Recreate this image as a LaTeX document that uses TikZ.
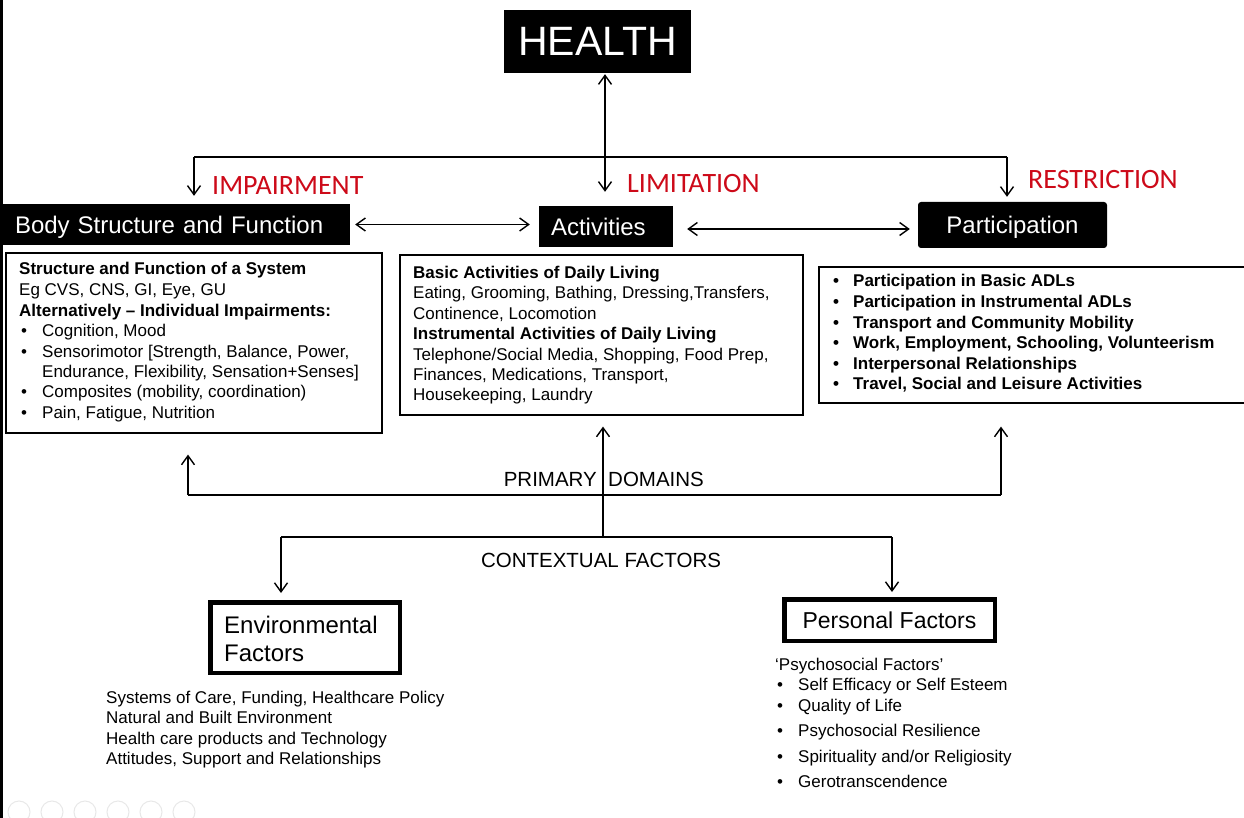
\documentclass[tikz,border=0pt]{standalone}
\usepackage{fontspec}
\setmainfont{Liberation Sans}
\newfontfamily\calibri{Carlito}
\usetikzlibrary{arrows.meta}
\definecolor{labred}{RGB}{205,10,25}
\newcommand{\bulx}[2]{\makebox[#1pt][l]{\hspace{#2pt}\textbullet}}
\begin{document}
\begin{tikzpicture}[x=1pt,y=-1pt,
  arr/.style={line width=1.4pt,-{Straight Barb[length=9pt,width=13pt]}},
  darr/.style={line width=1.4pt,{Straight Barb[length=9pt,width=13pt]}-{Straight Barb[length=9pt,width=13pt]}},
  plainline/.style={line width=1.4pt},
  blackbox/.style={fill=black,text=white,inner sep=0pt,text depth=0pt,font=\fontsize{24}{28}\selectfont},
  thinbox/.style={draw,line width=1.6pt,inner sep=0pt,anchor=north west},
  thickbox/.style={draw,line width=4.5pt,inner sep=0pt},
  redlab/.style={text=labred,font=\calibri\fontsize{28}{32}\selectfont,inner sep=0pt,anchor=base west},
  bodytext/.style={font=\fontsize{17}{20.5}\selectfont,inner sep=0pt,anchor=base west},
  captext/.style={font=\fontsize{20.5}{23}\selectfont,inner sep=0pt},
]
\useasboundingbox (0,0) rectangle (1244,818);
\fill[white] (0,0) rectangle (1244,818);
\fill[black] (0,0) rectangle (3,818);

% top row
\node[blackbox,minimum width=187pt,minimum height=63pt,font=\fontsize{41}{45}\selectfont] (health) at (597.5,41.5) {HEALTH};
\node[blackbox,minimum width=347pt,minimum height=41pt,text width=323pt,align=left] (body) at (176.5,224.5) {Body Structure and Function};
\node[blackbox,minimum width=134pt,minimum height=41pt,text width=110pt,align=left] (act) at (606,226.5) {Activities};
\node[blackbox,rounded corners=3pt,minimum width=189pt,minimum height=46pt] (part) at (1012.5,225) {Participation};

\node[redlab] (imp) at (212,195) {IMPAIRMENT};
\node[redlab] (lim) at (627,193) {LIMITATION};
\node[redlab] (res) at (1028,189) {RESTRICTION};

\coordinate (hl) at (194,157);
\coordinate (hr) at (1007,157);
\coordinate (hm) at (605,157);
\draw[plainline] (hl) -- (hr);
\draw[arr,shorten >=8pt] (hl) -- (hl |- body.north);
\draw[arr,shorten >=5pt] (hr) -- (hr |- part.north);
\draw[darr,shorten <=1pt,shorten >=14pt] (health.south -| hm) -- (hm |- act.north);
\draw[darr,shorten <=5pt,shorten >=9pt] (body.east) -- (body.east -| act.west);
\draw[darr,shorten <=14pt,shorten >=8pt] ([yshift=-2.5pt]act.east) -- ([yshift=-2.5pt]act.east -| part.west);

% boxes
\node[thinbox,minimum width=376pt,minimum height=180pt] (sbox) at (5,252) {};
\node[thinbox,minimum width=403pt,minimum height=160pt] (abox) at (399,254) {};
\node[thinbox,minimum width=440pt,minimum height=136pt] (pbox) at (818,266) {};

\node[bodytext] (stxt) at (19,275) {\begin{tabular}[t]{@{}l@{}}
\textbf{Structure and Function of a System}\\
Eg CVS, CNS, GI, Eye, GU\\
\textbf{Alternatively – Individual Impairments:}\\
\bulx{23}{2}Cognition, Mood\\
\bulx{23}{2}Sensorimotor [Strength, Balance, Power,\\
\hspace*{23pt}Endurance, Flexibility, Sensation+Senses]\\
\bulx{23}{2}Composites (mobility, coordination)\\
\bulx{23}{2}Pain, Fatigue, Nutrition
\end{tabular}};

\node[bodytext] (atxt) at (413,278) {\begin{tabular}[t]{@{}l@{}}
\textbf{Basic Activities of Daily Living}\\
Eating, Grooming, Bathing, Dressing,Transfers,\\
Continence, Locomotion\\
\textbf{Instrumental Activities of Daily Living}\\
Telephone/Social Media, Shopping, Food Prep,\\
Finances, Medications, Transport,\\
Housekeeping, Laundry
\end{tabular}};

\node[bodytext,font=\fontsize{17}{20.6}\selectfont\bfseries] (ptxt) at (830,287) {\begin{tabular}[t]{@{}l@{}}
\bulx{23}{3}Participation in Basic ADLs\\
\bulx{23}{3}Participation in Instrumental ADLs\\
\bulx{23}{3}Transport and Community Mobility\\
\bulx{23}{3}Work, Employment, Schooling, Volunteerism\\
\bulx{23}{3}Interpersonal Relationships\\
\bulx{23}{3}Travel, Social and Leisure Activities
\end{tabular}};

% primary domains
\coordinate (pl) at (188,495);
\coordinate (pr) at (1001,495);
\draw[plainline] (pl) -- (pr);
\draw[arr,shorten >=21pt] (pl) -- (pl |- sbox.south);
\draw[arr,shorten >=23pt] (pr) -- (pr |- pbox.south);
\node[captext,anchor=base east] (prim) at (597,486) {PRIMARY};
\node[captext,anchor=base west] (dom) at (608,486) {DOMAINS};

% contextual factors
\coordinate (cl) at (281,537);
\coordinate (cr) at (892,537);
\coordinate (cm) at (603,537);
\draw[plainline] (cl) -- (cr);
\draw[arr,shorten >=11pt] (cm) -- (cm |- abox.south);
\node[captext,anchor=base] (ctx) at (601,567) {CONTEXTUAL FACTORS};

\node[thickbox,minimum width=189.5pt,minimum height=70.5pt] (env) at (305,637.5) {};
\node[inner sep=0pt,anchor=base west,font=\fontsize{24}{28}\selectfont] (envt) at (224,633) {\begin{tabular}[t]{@{}l@{}}Environmental\\Factors\end{tabular}};
\node[thickbox,minimum width=210.5pt,minimum height=41.5pt,text depth=0pt,font=\fontsize{23}{27}\selectfont] (pers) at (889.5,620) {Personal Factors};
\draw[arr,shorten >=7pt] (cl) -- (cl |- env.north);
\draw[arr,shorten >=5pt] (cr) -- (cr |- pers.north);

\node[bodytext] (envl) at (106,703) {\begin{tabular}[t]{@{}l@{}}
Systems of Care, Funding, Healthcare Policy\\
Natural and Built Environment\\
Health care products and Technology\\
Attitudes, Support and Relationships
\end{tabular}};

\node[bodytext] (persl) at (775,670) {\begin{tabular}[t]{@{}l@{}}
‘Psychosocial Factors’\\
\bulx{23}{2}Self Efficacy or Self Esteem\\
\bulx{23}{2}Quality of Life\\[5pt]
\bulx{23}{2}Psychosocial Resilience\\[5pt]
\bulx{23}{2}Spirituality and/or Religiosity\\[5pt]
\bulx{23}{2}Gerotranscendence
\end{tabular}};

% faint slide controls
\foreach \cx in {19,52,85,118,151,184}
  \draw[black!9,line width=1pt] (\cx,812) circle[radius=11pt];
\end{tikzpicture}
\end{document}
